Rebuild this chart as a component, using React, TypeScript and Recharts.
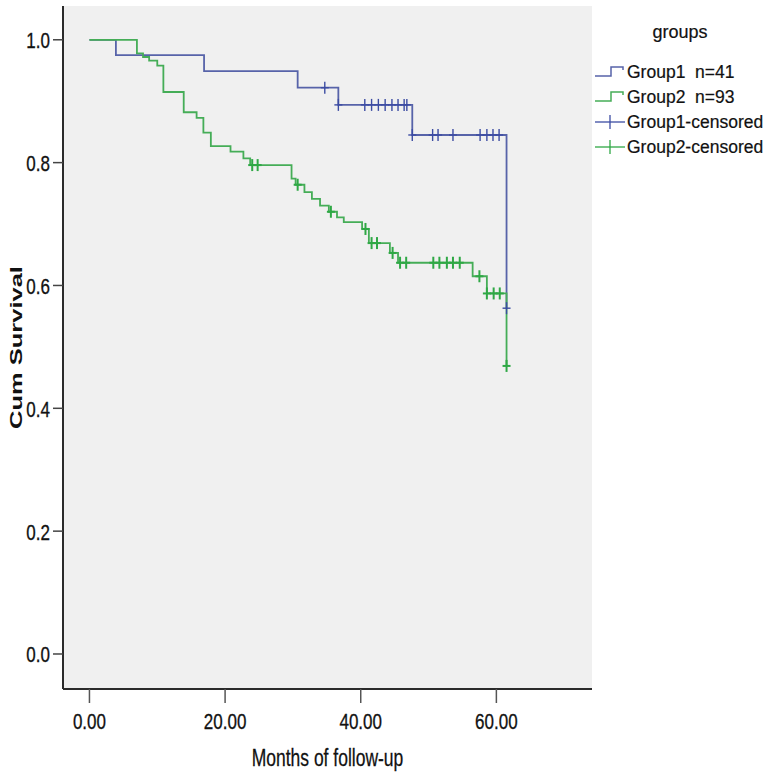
import React from 'react';
import { ComposedChart, Line, Scatter, XAxis, YAxis, CartesianGrid, Legend } from 'recharts';

// Kaplan-Meier steps
const group1Months = [0, 3.9, 16.9, 30.7, 36.7, 47.6, 61.5];
const group1Survival = [1.0, 0.975, 0.949, 0.922, 0.894, 0.845, 0.563];
const group1CensoredMonths = [34.7, 36.7, 40.6, 41.6, 42.6, 43.6, 44.6, 45.5, 46.4, 46.8, 47.6, 50.6, 51.4, 53.6, 57.6, 58.6, 59.5, 60.4, 61.5];
const group1CensoredSurvival = [0.922, 0.894, 0.894, 0.894, 0.894, 0.894, 0.894, 0.894, 0.894, 0.894, 0.845, 0.845, 0.845, 0.845, 0.845, 0.845, 0.845, 0.845, 0.563];

const group2Months = [0, 7.0, 7.9, 8.8, 10.0, 10.9, 13.9, 15.8, 16.8, 17.9, 20.8, 22.7, 23.7, 29.8, 30.4, 31.7, 32.8, 34.0, 35.3, 36.5, 37.5, 40.2, 41.2, 44.3, 45.5, 56.5, 58.6, 61.5];
const group2Survival = [1.0, 0.978, 0.972, 0.966, 0.958, 0.915, 0.882, 0.873, 0.849, 0.827, 0.818, 0.807, 0.796, 0.774, 0.764, 0.752, 0.741, 0.730, 0.720, 0.711, 0.703, 0.692, 0.669, 0.653, 0.637, 0.615, 0.587, 0.469];
const group2CensoredMonths = [24.0, 24.8, 30.7, 35.6, 40.7, 41.6, 42.4, 44.7, 45.8, 46.7, 50.7, 51.6, 52.7, 53.6, 54.6, 57.5, 58.6, 59.6, 60.5, 61.5];
const group2CensoredSurvival = [0.796, 0.796, 0.764, 0.720, 0.692, 0.669, 0.669, 0.653, 0.637, 0.637, 0.637, 0.637, 0.637, 0.637, 0.637, 0.615, 0.587, 0.587, 0.587, 0.469];

const xTicks = [0, 20, 40, 60];
const yTicks = [0, 0.2, 0.4, 0.6, 0.8, 1.0];
const legendTitle = 'groups';
const legendLabels = ['Group1  n=41', 'Group2  n=93', 'Group1-censored', 'Group2-censored'];

const BLUE = '#5763a9';
const GREEN = '#45ad57';
const BLUE_MARK = '#3c4ca3';
const GREEN_MARK = '#2fa845';
const FONT = '"Liberation Sans", Arial, sans-serif';

const zip = (xs: number[], ys: number[]) => xs.map((t, i) => ({ t, s: ys[i] }));
const group1Line = zip(group1Months, group1Survival);
const group2Line = zip(group2Months, group2Survival);
const group1Censored = zip(group1CensoredMonths, group1CensoredSurvival);
const group2Censored = zip(group2CensoredMonths, group2CensoredSurvival);

const Plus = ({ cx, cy, color, w }: any) => (
  <g stroke={color} strokeWidth={w}>
    <line x1={cx - 4} y1={cy} x2={cx + 4} y2={cy} />
    <line x1={cx} y1={cy - 6} x2={cx} y2={cy + 6} />
  </g>
);

const XTick = ({ x, y, payload }: any) => (
  <g transform={`translate(${x},${y})`}>
    <text transform="scale(1,1.35)" textAnchor="middle" dy={17.5} fontSize={17} fontFamily={FONT} fill="#111" stroke="#111" strokeWidth={0.25}>
      {Number(payload.value).toFixed(2)}
    </text>
  </g>
);

const YTick = ({ x, y, payload }: any) => (
  <g transform={`translate(${x},${y})`}>
    <text transform="scale(1,1.35)" textAnchor="end" dy={6.2} fontSize={17} fontFamily={FONT} fill="#111" stroke="#111" strokeWidth={0.25}>
      {Number(payload.value).toFixed(1)}
    </text>
  </g>
);

const XTitle = ({ viewBox }: any) => (
  <g transform={`translate(${viewBox.x + viewBox.width / 2},${viewBox.y + 77})`}>
    <text transform="scale(1,1.35)" textAnchor="middle" fontSize={17.5} fontFamily={FONT} fill="#111" stroke="#111" strokeWidth={0.2}>
      Months of follow-up
    </text>
  </g>
);

const YTitle = ({ viewBox }: any) => (
  <g transform={`translate(22,${viewBox.y + viewBox.height / 2}) rotate(-90)`}>
    <text transform="scale(1.5,1)" textAnchor="middle" fontSize={17} fontWeight="bold" fontFamily={FONT} fill="#111">
      Cum Survival
    </text>
  </g>
);

const LegendBox = () => (
  <svg width={179} height={170}>
    <text x={88} y={38} textAnchor="middle" fontSize={18} fontFamily={FONT} fill="#111" stroke="#111" strokeWidth={0.2}>
      {legendTitle}
    </text>
    {legendLabels.map((label, i) => {
      const base = 78 + i * 25;
      const color = i % 2 === 0 ? BLUE : GREEN;
      return (
        <g key={label}>
          {i < 2 ? (
            <path d={`M3 ${base - 2} H19 V${base - 11} H31 V${base - 8}`} fill="none" stroke={color} strokeWidth={1.5} />
          ) : (
            <g stroke={i === 2 ? BLUE_MARK : GREEN_MARK} strokeWidth={1.3}>
              <line x1={3} y1={base - 6} x2={33} y2={base - 6} />
              <line x1={18} y1={base - 13} x2={18} y2={base + 1} />
            </g>
          )}
          <text x={35} y={base} fontSize={17.5} fontFamily={FONT} fill="#111" stroke="#111" strokeWidth={0.2} style={{ whiteSpace: 'pre' }}>
            {label}
          </text>
        </g>
      );
    })}
  </svg>
);

export default function App() {
  return (
    <div style={{ position: 'absolute', left: 0, top: 0, width: 771, height: 780, background: '#fff' }}>
      <ComposedChart width={771} height={780} margin={{ top: 6, right: 179, bottom: 0, left: 0 }}>
        <CartesianGrid fill="#f0f0f0" horizontal={false} vertical={false} />
        <XAxis
          dataKey="t"
          type="number"
          domain={[-3.9, 74.1]}
          allowDataOverflow
          ticks={xTicks}
          height={91}
          tickSize={14}
          tickMargin={2}
          tick={<XTick />}
          axisLine={{ stroke: '#2b2b2b', strokeWidth: 2 }}
          tickLine={{ stroke: '#555', strokeWidth: 1.5 }}
          label={{ content: (p: any) => <XTitle viewBox={p.viewBox} /> }}
        />
        <XAxis
          xAxisId="top"
          orientation="top"
          type="number"
          domain={[-3.9, 74.1]}
          allowDataOverflow
          height={0}
          tick={false}
          tickLine={false}
          axisLine={{ stroke: '#8e8e8e', strokeWidth: 2 }}
        />
        <YAxis
          type="number"
          domain={[-0.057, 1.055]}
          allowDataOverflow
          ticks={yTicks}
          width={63}
          tickSize={10}
          tickMargin={3}
          tick={<YTick />}
          axisLine={{ stroke: '#2b2b2b', strokeWidth: 2 }}
          tickLine={{ stroke: '#444', strokeWidth: 1.5 }}
          label={{ content: (p: any) => <YTitle viewBox={p.viewBox} /> }}
        />
        <YAxis
          yAxisId="right"
          orientation="right"
          type="number"
          domain={[-0.057, 1.055]}
          allowDataOverflow
          width={0}
          tick={false}
          tickLine={false}
          axisLine={{ stroke: '#6f6f6f', strokeWidth: 1.5 }}
        />
        <Line data={group1Line} dataKey="s" type="stepAfter" stroke={BLUE} strokeWidth={1.8} dot={false} isAnimationActive={false} />
        <Line data={group2Line} dataKey="s" type="stepAfter" stroke={GREEN} strokeWidth={1.8} dot={false} isAnimationActive={false} />
        <Scatter
          data={group1Censored}
          dataKey="s"
          isAnimationActive={false}
          shape={(p: any) => <Plus cx={p.cx} cy={p.cy} color={BLUE_MARK} w={1.4} />}
        />
        <Scatter
          data={group2Censored}
          dataKey="s"
          isAnimationActive={false}
          shape={(p: any) => <Plus cx={p.cx} cy={p.cy} color={GREEN_MARK} w={2} />}
        />
        <Legend
          layout="vertical"
          align="center"
          verticalAlign="middle"
          wrapperStyle={{ left: 592, top: 0, width: 179, height: 170 }}
          content={() => <LegendBox />}
        />
      </ComposedChart>
    </div>
  );
}
